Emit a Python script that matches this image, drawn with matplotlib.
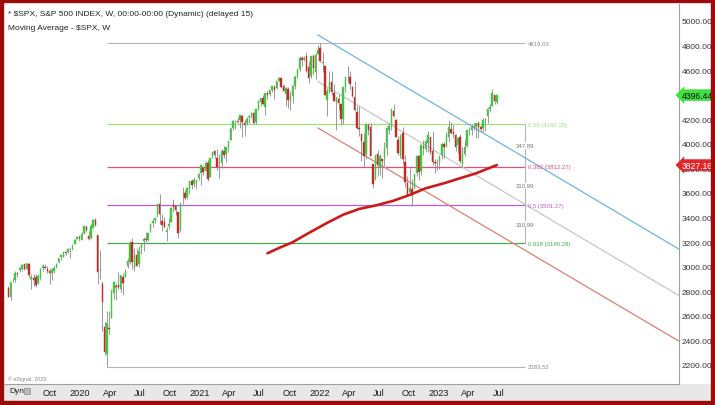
import matplotlib
matplotlib.use("Agg")
import matplotlib.pyplot as plt
import matplotlib.dates as mdates
import matplotlib.transforms as mtransforms
from matplotlib.patches import Rectangle
import pandas as pd

plt.rcParams['font.family'] = ['Liberation Sans', 'DejaVu Sans']

# weekly OHLC, $SPX, week of 2019-05-27 .. week of 2023-06-26
opens = [
    # 2019
    2830, 2751, 2885, 2889, 2951, 2971, 2980, 3019, 2980, 3024, 2899, 2908, 2913, 2866, 2909, 2989,
    2997, 2984, 2967, 2945, 2965, 2996, 3035, 3079, 3081, 3118, 3118, 3144, 3141, 3183, 3227, 3240,
    # 2020
    3218, 3271, 3321, 3248, 3235, 3318, 3378, 3257, 2974, 2863, 2508, 2291, 2501, 2579, 2782, 2845,
    2854, 2815, 2915, 2913, 3004, 3038, 3199, 2994, 3095, 3018, 3155, 3206, 3224, 3219, 3289, 3356,
    3380, 3419, 3509, 3370, 3364, 3285, 3334, 3367, 3500, 3493, 3441, 3297, 3583, 3600, 3566, 3634,
    3694, 3675, 3684, 3723,
    # 2021
    3764, 3803, 3781, 3842, 3732, 3892, 3939, 3886, 3842, 3844, 3943, 3917, 3970, 4034, 4125, 4179,
    4185, 4191, 4229, 4170, 4168, 4216, 4229, 4248, 4174, 4285, 4343, 4373, 4297, 4410, 4407, 4438,
    4462, 4455, 4514, 4536, 4474, 4402, 4443, 4349, 4386, 4469, 4553, 4610, 4702, 4689, 4712, 4628,
    4548, 4711, 4587, 4733,
    # 2022
    4778, 4655, 4632, 4357, 4431, 4506, 4413, 4333, 4364, 4327, 4203, 4462, 4541, 4547, 4462, 4385,
    4255, 4130, 4082, 4013, 3920, 4151, 4134, 3838, 3715, 3921, 3815, 3880, 3883, 3966, 4113, 4155,
    4269, 4195, 4035, 3910, 4084, 3849, 3682, 3610, 3630, 3638, 3765, 3902, 3779, 3977, 3957, 4005,
    4053, 3940, 3853, 3844,
    # 2023
    3853, 3910, 3999, 3979, 4056, 4119, 4098, 4072, 3992, 4055, 3835, 3918, 3982, 4103, 4110, 4140,
    4134, 4166, 4136, 4127, 4191, 4226, 4283, 4308, 4396, 4337,
]
highs = [
    2841, 2876, 2911, 2964, 2958, 2996, 3018, 3020, 3028, 3029, 2943, 2943, 2940, 2940, 2986, 3021,
    3022, 3007, 2993, 2993, 3008, 3027, 3067, 3098, 3121, 3127, 3154, 3151, 3182, 3226, 3248, 3259,
    3282, 3330, 3338, 3293, 3347, 3385, 3393, 3260, 3136, 2883, 2553, 2637, 2641, 2819, 2880, 2868,
    2955, 2934, 2945, 2980, 3068, 3212, 3234, 3155, 3155, 3166, 3185, 3238, 3280, 3273, 3352, 3387,
    3399, 3509, 3588, 3425, 3403, 3321, 3393, 3482, 3550, 3502, 3442, 3529, 3646, 3628, 3645, 3699,
    3713, 3727, 3703, 3760,
    3827, 3823, 3862, 3871, 3887, 3937, 3951, 3958, 3915, 3960, 3983, 3978, 4021, 4130, 4192, 4195,
    4219, 4238, 4237, 4190, 4219, 4234, 4255, 4262, 4287, 4356, 4372, 4394, 4415, 4430, 4441, 4468,
    4481, 4513, 4545, 4536, 4486, 4466, 4466, 4429, 4475, 4560, 4608, 4718, 4718, 4718, 4744, 4673,
    4713, 4731, 4740, 4808,
    4819, 4749, 4632, 4453, 4596, 4590, 4490, 4385, 4402, 4328, 4465, 4546, 4637, 4593, 4471, 4513,
    4308, 4308, 4082, 4091, 4158, 4169, 4168, 3838, 3913, 3946, 3918, 3880, 4013, 4140, 4167, 4280,
    4325, 4204, 4062, 4076, 4140, 3907, 3736, 3807, 3713, 3757, 3906, 3912, 4002, 4029, 4034, 4101,
    4053, 4101, 3878, 3873,
    3906, 4004, 4015, 4095, 4195, 4176, 4156, 4077, 4048, 4079, 3973, 4039, 4110, 4133, 4164, 4170,
    4170, 4187, 4154, 4212, 4213, 4290, 4323, 4448, 4400, 4400,
]
lows = [
    2750, 2728, 2873, 2874, 2914, 2953, 2964, 2971, 2977, 2914, 2822, 2840, 2834, 2856, 2891, 2964,
    2986, 2946, 2856, 2892, 2952, 2991, 3027, 3051, 3078, 3091, 3115, 3070, 3132, 3183, 3223, 3212,
    3214, 3264, 3280, 3214, 3223, 3316, 3328, 2855, 2901, 2478, 2280, 2184, 2448, 2579, 2735, 2727,
    2817, 2797, 2767, 2913, 2987, 3025, 2984, 2966, 3004, 3000, 3101, 3127, 3201, 3205, 3284, 3324,
    3354, 3404, 3349, 3293, 3317, 3209, 3303, 3362, 3441, 3424, 3233, 3280, 3512, 3543, 3554, 3594,
    3634, 3647, 3636, 3705,
    3663, 3750, 3779, 3694, 3726, 3885, 3885, 3789, 3723, 3805, 3883, 3853, 3935, 4034, 4114, 4118,
    4173, 4128, 4056, 4062, 4155, 4168, 4209, 4165, 4165, 4272, 4308, 4321, 4233, 4368, 4386, 4422,
    4367, 4450, 4513, 4458, 4428, 4306, 4289, 4279, 4330, 4448, 4538, 4596, 4630, 4672, 4585, 4495,
    4532, 4572, 4531, 4733,
    4662, 4582, 4395, 4223, 4415, 4401, 4346, 4115, 4278, 4157, 4161, 4425, 4506, 4450, 4381, 4268,
    4124, 4062, 3859, 3811, 3875, 4074, 3900, 3637, 3705, 3741, 3743, 3722, 3819, 3911, 4079, 4113,
    4219, 4057, 3907, 3886, 3838, 3648, 3584, 3600, 3492, 3636, 3736, 3705, 3743, 3907, 3932, 3936,
    3918, 3828, 3764, 3783,
    3795, 3877, 3886, 3970, 4015, 4079, 4047, 3943, 3928, 3846, 3809, 3899, 3971, 4069, 4073, 4114,
    4050, 4048, 4099, 4099, 4104, 4167, 4261, 4307, 4328, 4328,
]
closes = [
    2752, 2873, 2887, 2950, 2942, 2990, 3014, 2977, 3026, 2932, 2919, 2889, 2847, 2926, 2979, 3007,
    2992, 2962, 2952, 2970, 2986, 3023, 3067, 3093, 3120, 3110, 3141, 3146, 3169, 3221, 3240, 3235,
    3265, 3330, 3295, 3226, 3328, 3380, 3338, 2954, 2972, 2711, 2305, 2541, 2489, 2790, 2875, 2837,
    2831, 2930, 2864, 2955, 3044, 3194, 3041, 3098, 3009, 3130, 3185, 3225, 3216, 3271, 3351, 3373,
    3397, 3508, 3427, 3341, 3319, 3298, 3348, 3477, 3484, 3465, 3270, 3509, 3585, 3558, 3638, 3699,
    3663, 3709, 3703, 3756,
    3825, 3768, 3841, 3714, 3887, 3935, 3907, 3811, 3842, 3943, 3913, 3975, 4020, 4129, 4185, 4180,
    4181, 4233, 4174, 4156, 4204, 4230, 4247, 4166, 4281, 4352, 4370, 4327, 4412, 4395, 4437, 4468,
    4442, 4509, 4535, 4459, 4433, 4455, 4357, 4391, 4471, 4545, 4605, 4698, 4683, 4698, 4595, 4538,
    4712, 4621, 4726, 4766,
    4677, 4663, 4398, 4432, 4501, 4419, 4349, 4385, 4329, 4204, 4463, 4543, 4546, 4488, 4393, 4272,
    4132, 4123, 4024, 3901, 4158, 4109, 3901, 3675, 3912, 3825, 3899, 3863, 3962, 4130, 4145, 4280,
    4228, 4058, 3924, 4067, 3873, 3693, 3586, 3640, 3583, 3753, 3901, 3771, 3993, 3965, 4026, 4072,
    3934, 3852, 3845, 3840,
    3895, 3999, 3973, 4071, 4136, 4090, 4079, 3970, 4046, 3862, 3917, 3971, 4109, 4105, 4138, 4134,
    4169, 4136, 4124, 4192, 4205, 4282, 4299, 4410, 4348, 4396,
]
weeks = pd.date_range("2019-05-27", periods=len(closes), freq="W-MON")

# moving average
ma_dates = ["2021-07-26", "2021-08-30", "2021-10-11", "2021-11-29", "2022-01-24", "2022-03-14",
            "2022-05-02", "2022-06-27", "2022-08-15", "2022-10-03", "2022-11-21", "2023-01-16",
            "2023-03-06", "2023-04-24", "2023-06-26"]
ma_values = [3109, 3152, 3199, 3274, 3356, 3423, 3470, 3502, 3537, 3584, 3638, 3679, 3720, 3760,
             3827]

# fibonacci retracement, low (Mar 2020) -> high (Jan 2022)
fib_high = 4819.03
fib_low = 2183.52
fib_ratios = [0.25, 0.382, 0.5, 0.618]
fib_colors = ['#9ee07a', '#e0507e', '#b85ccc', '#4aa84a']
fib_start, fib_end = "2020-03-23", "2023-09-20"

# parallel channel (upper / median / lower)
chan_dates = ["2021-12-27", "2025-01-01"]
chan_upper = [4886, 3144]
chan_mid = [4507, 2766]
chan_lower = [4129, 2395]

last_price = 4396.44
ma_last = 3827.16
price_ticks = [2200, 2400, 2600, 2800, 3000, 3200, 3400, 3600, 3800, 4000, 4200, 4400, 4600,
               4800, 5000]

fig = plt.figure(figsize=(7.15, 4.06), dpi=100)
ax = fig.add_axes([5 / 715, 21 / 406, 674 / 715, 380 / 406])

x = mdates.date2num(weeks)
up_col, dn_col = '#3fc83f', '#c42a26'
cols = [up_col if c >= o else dn_col for o, c in zip(opens, closes)]
ax.vlines(x, lows, highs, color='#8a8a8a', lw=0.6, zorder=2)
ax.bar(x, [c - o for o, c in zip(opens, closes)], bottom=opens, width=4.5,
       color=cols, edgecolor=cols, lw=0.3, zorder=3)

# fib levels
fs, fe = mdates.datestr2num(fib_start), mdates.datestr2num(fib_end)
rng = fib_high - fib_low
ax.hlines([fib_high, fib_low], fs, fe, color='#b4b4b4', lw=0.8, zorder=1)
for r, c in zip(fib_ratios, fib_colors):
    lvl = fib_high - r * rng
    ax.hlines(lvl, fs, fe, color=c, lw=0.9, zorder=1)
    ax.text(fe + 8, lvl, f"{r:g} ({lvl:.2f})", color=c, fontsize=4.3, va='center', ha='left')
levels = [fib_high - r * rng for r in fib_ratios]
ax.vlines(fe, levels[-1], levels[0], color='#b4b4b4', lw=0.8, zorder=1)
for a, b in zip(levels[:-1], levels[1:]):
    ax.text(fe, (a + b) / 2, f"{a - b:.2f}", color='#777777', fontsize=4.3, va='center',
            ha='center', bbox=dict(fc='white', ec='none', pad=0.5))
ax.text(fe + 8, fib_high, f"{fib_high:.2f}", color='#888888', fontsize=4.3, va='center')
ax.text(fe + 8, fib_low, f"{fib_low:.2f}", color='#888888', fontsize=4.3, va='center')

# channel
cd = mdates.datestr2num(chan_dates)
ax.plot(cd, chan_upper, color='#6fb4e4', lw=0.9, zorder=1)
ax.plot(cd, chan_mid, color='#c8c8c8', lw=0.9, zorder=1)
ax.plot(cd, chan_lower, color='#e08070', lw=0.9, zorder=1)

# moving average
ax.plot(mdates.datestr2num(ma_dates), ma_values, color='#cc1a1a', lw=1.9, zorder=4,
        solid_capstyle='round', solid_joinstyle='round')

ax.set_xlim(mdates.datestr2num("2019-05-17"), mdates.datestr2num("2025-01-02"))
ax.set_ylim(2045, 5138)

ticks = pd.date_range("2019-10-01", "2023-07-01", freq="3MS")
ax.set_xticks(mdates.date2num(ticks))
ax.set_xticklabels([str(t.year) if t.month == 1 else t.strftime('%b') for t in ticks],
                   fontsize=6.6, color='#1a1a1a')
ax.yaxis.tick_right()
ax.set_yticks(price_ticks)
# 4400 sits under the last-price tag, 3800 is only half hidden
ax.set_yticklabels(["" if v == 4400 else f"{v:.2f}" for v in price_ticks], fontsize=6.0,
                   color='#333333')
ax.tick_params(axis='both', length=0)
ax.tick_params(axis='x', pad=3)
ax.tick_params(axis='y', pad=2)
for s in ['top', 'left']:
    ax.spines[s].set_visible(False)
for s in ['right', 'bottom']:
    ax.spines[s].set_color('#a0a0a0')
    ax.spines[s].set_linewidth(0.8)

# price tags on the right axis
trans = mtransforms.blended_transform_factory(ax.transAxes, ax.transData)
ax.text(1.004, last_price, f"{last_price:.2f}", transform=trans, fontsize=6.2, color='#111111',
        va='center', ha='left', zorder=6,
        bbox=dict(boxstyle='larrow,pad=0.15', fc='#3ee23e', ec='none'))
ax.text(1.004, ma_last, f"{ma_last:.2f}", transform=trans, fontsize=6.2, color='white',
        va='center', ha='left', zorder=6,
        bbox=dict(boxstyle='larrow,pad=0.15', fc='#e0262a', ec='none'))

# header texts
ax.text(0.004, 0.976, "* \\$SPX, S&P 500 INDEX, W, 00:00-00:00 (Dynamic) (delayed 15)",
        transform=ax.transAxes, fontsize=6.0, color='#222222', va='center')
ax.text(0.004, 0.939, "Moving Average - \\$SPX, W", transform=ax.transAxes, fontsize=6.0,
        color='#222222', va='center')
ax.text(0.004, 0.014, "© eSignal, 2023", transform=ax.transAxes, fontsize=3.8, color='#888888',
        va='center')

# bottom strip and frame
fig.add_artist(Rectangle((0, 0), 1, 21 / 406, transform=fig.transFigure, fc='#e8e8e8',
                         ec='none', zorder=-1))
fig.text(9 / 715, 1 - 392 / 406, "Dyn", fontsize=6.0, color='#222222', va='center')
fig.add_artist(Rectangle((24 / 715, 1 - 395 / 406), 6 / 715, 6 / 406, transform=fig.transFigure,
                         fc='#bbbbbb', ec='#777777', lw=0.4))
fig.add_artist(Rectangle((0, 0), 1, 1, transform=fig.transFigure, fill=False, ec='#9c0a0a',
                         lw=6, zorder=10))

fig.savefig("out.png", dpi=100)
